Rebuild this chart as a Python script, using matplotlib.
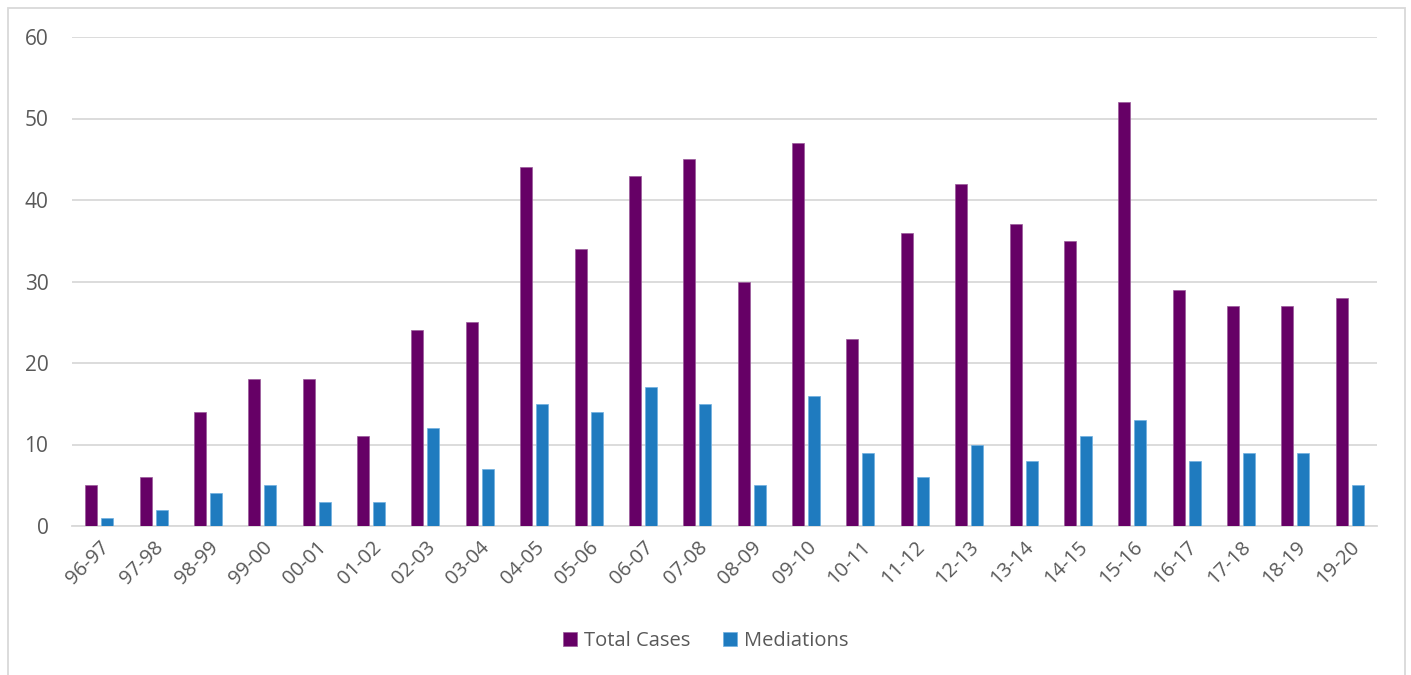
import matplotlib
matplotlib.use("Agg")
import matplotlib.pyplot as plt
import numpy as np
from matplotlib.patches import Rectangle

categories = ["96-97", "97-98", "98-99", "99-00", "00-01", "01-02", "02-03", "03-04",
              "04-05", "05-06", "06-07", "07-08", "08-09", "09-10", "10-11", "11-12",
              "12-13", "13-14", "14-15", "15-16", "16-17", "17-18", "18-19", "19-20"]
total_cases = [5, 6, 14, 18, 18, 11, 24, 25, 44, 34, 43, 45, 30, 47, 23, 36, 42, 37, 35, 52, 29, 27, 27, 28]
mediations = [1, 2, 4, 5, 3, 3, 12, 7, 15, 14, 17, 15, 5, 16, 9, 6, 10, 8, 11, 13, 8, 9, 9, 5]
yticks = [0, 10, 20, 30, 40, 50, 60]

plt.rcParams['font.family'] = ['Open Sans', 'DejaVu Sans']

W, H = 1411, 675
fig = plt.figure(figsize=(W / 100, H / 100), dpi=100)
ax = fig.add_axes([72 / W, 1 - 526 / H, (1377 - 72) / W, (526 - 37) / H])

x = np.arange(len(categories))
bw = 0.22
off = 0.147
purple = "#660066"
blue = "#1f7bbf"
ax.bar(x - off, total_cases, bw, color=purple, edgecolor="#9a5a9a", linewidth=0.5, label="Total Cases", zorder=3)
ax.bar(x + off, mediations, bw, color=blue, edgecolor="#6fb0e0", linewidth=0.5, label="Mediations", zorder=3)

ax.set_xlim(-0.5, len(categories) - 0.5)
ax.set_ylim(0, 60)
ax.set_yticks(yticks)
ax.set_yticklabels([str(v) for v in yticks], fontsize=15, color="#595959")
ax.set_xticks(x)
ax.set_xticklabels(categories, rotation=45, ha="right", rotation_mode="anchor", fontsize=14.5, color="#595959")
ax.tick_params(axis="y", length=0, pad=17)
ax.tick_params(axis="x", length=0, pad=8)
ax.grid(axis="y", color="#d9d9d9", linewidth=1.3, zorder=0)
for s in ["top", "right", "left"]:
    ax.spines[s].set_visible(False)
ax.spines["bottom"].set_color("#d9d9d9")
ax.spines["bottom"].set_linewidth(1.3)

leg = fig.legend(loc="center", bbox_to_anchor=(0.5, 1 - 641 / H), ncol=2, frameon=False,
                 fontsize=14.5, handlelength=0.7, handleheight=0.7, handletextpad=0.35, columnspacing=1.6)
for t in leg.get_texts():
    t.set_color("#595959")

# outer chart border
fig.patches.append(Rectangle((8 / W, -0.01), (1405 - 8) / W, 1 - 8 / H + 0.01, transform=fig.transFigure,
                             fill=False, edgecolor="#d9d9d9", linewidth=1.3))

fig.savefig("out.png", dpi=100, facecolor="white")
